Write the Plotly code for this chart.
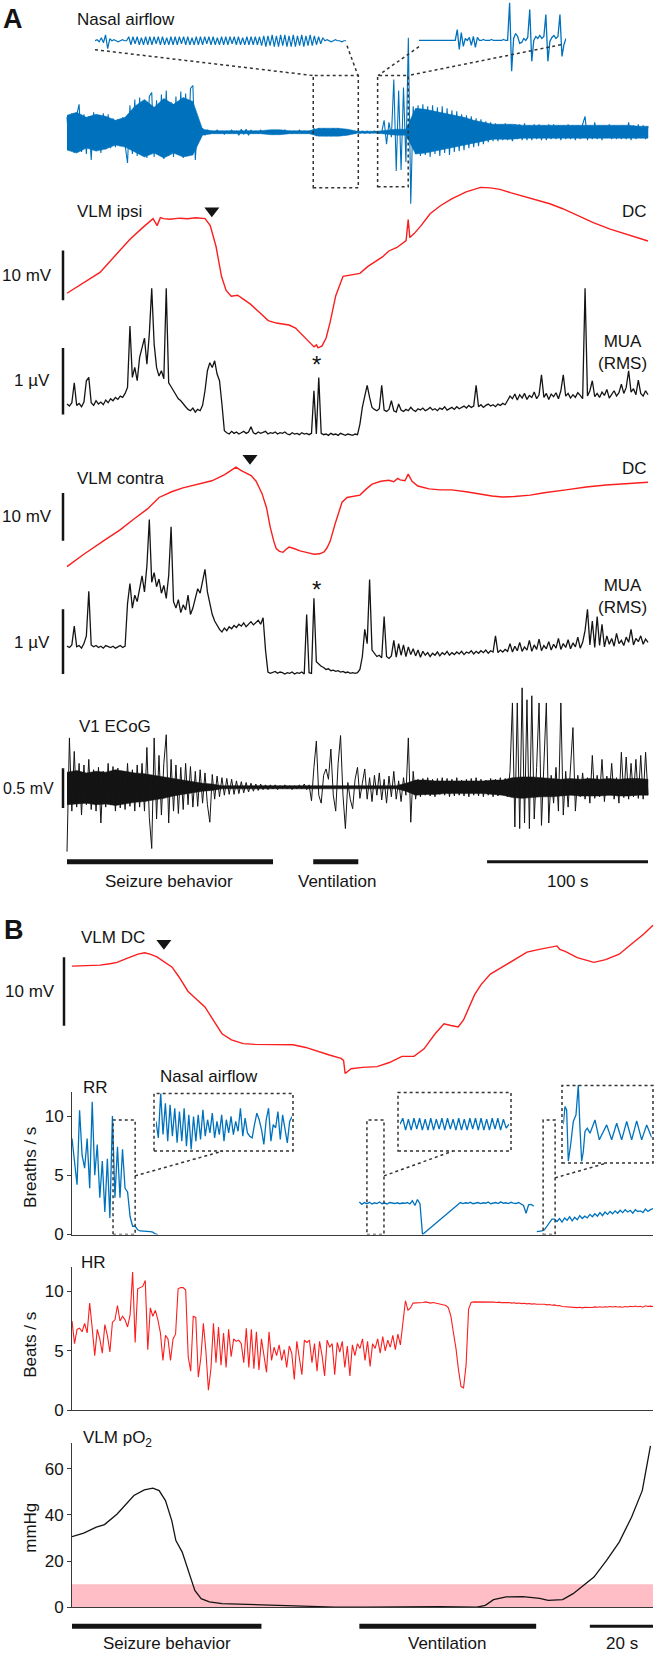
import numpy as np
import plotly.graph_objects as go

W, H = 656, 1663
FONT = "Liberation Sans, Arial, Helvetica, sans-serif"
BLUE = "rgb(0,114,189)"
RED = "rgb(250,30,30)"
INK = "#141414"
AX = "#3a3a3a"

# ================= panel A (time in s) =================
DUR_A = 361.0

# nasal airflow, a.u.
nasal = [15, -18, 19, -21, 17, 28, -20, 18, -22, 16,
         -28, 20, -19, 17, -21, 19, -17, 18, -16, 14,
         -15, 13, -14, 15, -13, -31, 27, -22, 33, -24,
         35, -23, 30, -26, 36, 40, -25, 32, -22, 38,
         -27, 42, -24, 30, -25, 36, -23, 41, -26, 39,
         -24, 44, 47, -28, 10, -6, 4, -3, 2, -1,
         1, -1, 2, -1, 1, -2, 1, -1, 2, -1,
         1, -3, 3, -2, 3, -3, 2, -1, 1, -1,
         2, -1, 1, -1, 1, -2, 1, -1, 1, -1,
         2, -1, 1, -1, 1, -1, 2, -1, 1, -1,
         1, -1, 4, -4, 4, -3, 4, -4, 3, -4,
         4, -3, 4, -4, 3, -3, 1, -1, 1, -1,
         1, -1, 1, -1, 1, -1, 0, 1, 0, -1,
         0, 12, -12, 10, -5, 53, -39, 42, -38, 45,
         -30, 95, -72, 26, -22, 27, -24, 28, -23, 26,
         -25, 27, -22, 25, -24, 26, -21, 24, -23, 22,
         -20, 21, -19, 18, -18, 17, -16, 16, -15, 14,
         -14, 13, -12, 11, -10, 10, -9, 9, -9, 8,
         -8, 9, -8, 8, -9, 8, -7, 8, -8, 9,
         -8, 7, -8, 8, -7, 8, -8, 7, -8, 8,
         -7, 8, -7, 7, -8, 7, -7, 8, -7, 7,
         -8, 7, -7, 8, 16, -8, 7, -7, 10, -7,
         7, -8, 7, -6, 8, -7, 7, -7, 6, -7,
         7, -7, 10, -8, 7, -7, 8, -6, 7, -7,
         6]
# dense core of the airflow band, every 6 s
nasal_hi = [17, 20, 15, 18, 16, 12, 15, 26, 33, 25, 34, 28, 35, 31, 3,
            1.5, 1.5, 1.5, 1.5, 1.5, 1.5, 2.5, 2.5, 1.5, 1.5, 1.5, 4, 4, 4, 3,
            1, 1, 1, 2, 3, 3, 24, 23, 21, 19, 17, 15, 12, 10, 8, 8, 8,
            7, 7, 7, 7, 7, 7, 7, 7, 7, 7, 7, 7, 6, 6]
nasal_lo = [-18, -21, -16, -19, -17, -13, -15, -20, -25, -21, -26, -21, -25, -23, -3,
            -1.5, -1.5, -1.5, -1.5, -1.5, -1.5, -2.5, -2.5, -1.5, -1.5, -1.5, -4, -4, -4, -3,
            -1, -1, -1, -2, -3, -3, -22, -21, -19, -17, -15, -13, -11, -9, -7, -7, -7,
            -6, -6, -6, -6, -6, -6, -6, -6, -6, -6, -6, -6, -6, -6]

# enlarged airflow (ventilation window)
ins1 = [0, 1, -1, 3, -2, 6, -8, 2, 0, 1, 0, -1, 0, 1, 0, 0,
        4, -4, 4, -3, 4, -4, 3, -4, 4, -4, 4, -4, 4, -3, 4, -4, 4, -4, 3, -4,
        4, -4, 4, -4, 4, -3, 4, -4, 4, -4, 3, -4, 4, -4, 4, -4, 4, -3, 4, -4,
        4, -4, 3, -4, 4, -4, 4, -4, 4, -3, 4, -4, 4, -4, 3, -4, 4, -4, 4, -4,
        4, -4, 4,
        -5, 5, -6, 5, -5, 6, -6, 5, -6, 6, -5, 6, -6, 5, -6, 6, -6, 5, -5, 6,
        -6, 5, -5, 6, -5, 5, -4, 4, -3, 3,
        0, 1, 0, -1, 0, 1, 0, 0, -1, 0, 0]

# enlarged airflow (recovery window)
ins2 = [0, 0, 0, 0, 0, 0, 0, 0, 0, 0, 0, 0, 0, 0, 0, 0, 0, 0, 0, 11,
        -9, 8, -6, 2, 0, 3, -5, 4, -7, 3, 0, 0, 1, 0, 0, 0, 1, 0, 0, 0,
        0, 0, 1, 0, 0, 38, -31, 2, 7, 4, -3, -2, 2, 0, 3, 31, -21, 0, 4, 2,
        5, 2, 4, 26, -21, -1, 3, 5, 2, 4, 26, -16, -4, 2]

dc_ipsi_t = [0, 10, 20.5, 30, 39, 47, 53.5, 56, 58, 60, 64, 70, 75, 80, 85.8,
             89, 92.6, 96, 98.8, 102, 106, 110, 114, 120, 125, 130, 138, 142,
             145, 150, 153.5, 155, 156, 158.5, 161, 163.5, 167, 171.5, 176, 182,
             187, 192.7, 196, 200, 205, 210.7, 212, 213, 215.7, 220, 225.6, 232,
             239, 248, 257, 263, 269, 276, 283, 291, 300, 308, 317, 327, 337.5,
             348, 355, 361]
dc_ipsi_mv = [11, 13, 15.2, 18.6, 21.8, 24.2, 26.0, 24.6, 26.2, 26.0, 25.9, 26.1,
              26.0, 26.2, 26.0, 24.6, 20.4, 14.4, 11.6, 10.4, 10.6, 9.7, 8.8, 7.0,
              5.5, 5.0, 4.6, 4.0, 3.0, 1.2, 0.2, 0.6, 0.0, 0.4, 2.0, 5.2, 10.5,
              14.4, 14.6, 15.0, 16.4, 17.6, 18.3, 19.5, 20.2, 21.6, 25.8, 22.2,
              23.0, 24.6, 27.0, 28.6, 30.0, 31.4, 32.3, 32.2, 31.9, 31.2, 30.6,
              29.8, 29.0, 28.0, 26.6, 25.2, 23.9, 22.8, 22.2, 21.5]

mua_ipsi = [0.50, 0.47, 0.52, 0.82, 0.48, 0.51, 0.46, 0.53, 0.85, 0.90,
            0.52, 0.48, 0.55, 0.50, 0.53, 0.49, 0.56, 0.52, 0.58, 0.55,
            0.60, 0.57, 0.62, 0.60, 0.66, 0.75, 1.67, 0.90, 1.05, 0.85,
            1.20, 1.35, 1.49, 1.10, 1.55, 2.24, 1.40, 1.05, 0.92, 1.00,
            0.88, 2.24, 0.82, 0.76, 0.70, 0.62, 0.58, 0.55, 0.50, 0.46,
            0.42, 0.40, 0.44, 0.38, 0.42, 0.40, 0.48, 0.70, 1.00, 1.12,
            1.05, 1.15, 0.95, 0.85, 0.50, 0.10, 0.07, 0.05, 0.09, 0.06,
            0.08, 0.05, 0.07, 0.09, 0.06, 0.08, 0.16, 0.07, 0.05, 0.08,
            0.06, 0.07, 0.09, 0.05, 0.07, 0.06, 0.08, 0.05, 0.07, 0.06,
            0.08, 0.05, 0.04, 0.07, 0.05, 0.06, 0.04, 0.07, 0.05, 0.06,
            0.04, 0.06, 0.70, 0.05, 0.90, 0.06, 0.04, 0.05, 0.03, 0.06,
            0.04, 0.05, 0.03, 0.06, 0.04, 0.03, 0.05, 0.04, 0.03, 0.05,
            0.04, 0.20, 0.45, 0.62, 0.78, 0.60, 0.45, 0.42, 0.40, 0.43,
            0.78, 0.41, 0.39, 0.42, 0.55, 0.40, 0.38, 0.50, 0.41, 0.39,
            0.42, 0.40, 0.45, 0.41, 0.39, 0.43, 0.41, 0.44, 0.40, 0.42,
            0.45, 0.41, 0.43, 0.40, 0.44, 0.42, 0.46, 0.41, 0.43, 0.45,
            0.42, 0.46, 0.43, 0.45, 0.47, 0.44, 0.48, 0.45, 0.47, 0.78,
            0.46, 0.49, 0.45, 0.48, 0.50, 0.47, 0.49, 0.46, 0.50, 0.48,
            0.51, 0.49, 0.55, 0.62, 0.58, 0.65, 0.56, 0.64, 0.59, 0.66,
            0.57, 0.63, 0.60, 0.68, 0.58, 0.64, 0.94, 0.60, 0.66, 0.57,
            0.65, 0.61, 0.67, 0.58, 0.70, 0.94, 0.62, 0.66, 0.59, 0.64,
            0.60, 0.67, 0.63, 0.58, 2.24, 0.62, 0.70, 0.85, 0.61, 0.66,
            0.60, 0.68, 0.63, 0.72, 0.59, 0.65, 0.70, 0.62, 0.67, 0.80,
            0.66, 0.75, 1.00, 0.68, 0.73, 0.64, 0.86, 0.66, 0.62, 0.70,
            0.64]

dc_contra_t = [0, 10, 23.6, 33, 41.6, 50, 57.2, 65, 72, 80.8, 90, 98, 102, 105,
               108, 111, 114.4, 117.5, 121.2, 124, 126.2, 128.5, 130, 132, 134.2,
               136, 138, 141, 144.8, 150, 153.5, 157, 159.7, 161.5, 163.5, 166.6,
               170.9, 174, 178, 182, 186, 189.6, 195, 200, 203, 205.5, 207, 210,
               212, 214.4, 218, 225, 232, 239, 248, 256.7, 264, 270.4, 278, 287.8,
               296.5, 310, 322.6, 335, 348, 361]
dc_contra_mv = [-2.1, 0.4, 3.5, 5.6, 7.9, 10.0, 12.4, 13.6, 14.4, 15.2, 15.9,
                17.2, 18.0, 18.75, 18.1, 17.5, 17.0, 15.8, 13.2, 10.2, 6.3, 3.2,
                1.7, 1.1, 0.9, 1.5, 2.0, 1.7, 1.2, 0.8, 0.5, 0.6, 1.0, 1.8, 3.2,
                6.9, 11.4, 12.4, 12.6, 12.9, 14.2, 15.2, 15.8, 16.0, 15.7, 16.4,
                16.1, 15.9, 17.3, 15.8, 14.8, 14.2, 14.0, 14.0, 13.6, 13.1, 12.7,
                12.5, 12.6, 12.9, 13.4, 14.0, 14.6, 15.0, 15.3, 15.6]

mua_contra = [0.46, 0.44, 0.48, 0.77, 0.45, 0.47, 0.43, 0.50, 0.62, 1.31,
              0.48, 0.45, 0.47, 0.44, 0.46, 0.43, 0.47, 0.45, 0.44, 0.46,
              0.43, 0.45, 0.47, 0.44, 0.46, 1.12, 1.43, 1.05, 1.25, 1.15,
              1.35, 1.55, 1.30, 1.70, 2.42, 1.45, 1.60, 1.38, 1.50, 1.28,
              1.40, 1.20, 1.55, 2.31, 1.15, 1.05, 1.18, 0.98, 1.10, 1.02,
              1.25, 0.95, 1.05, 1.20, 1.35, 1.28, 1.45, 1.65, 1.30, 1.12,
              0.95, 0.85, 0.78, 0.72, 0.68, 0.74, 0.70, 0.76, 0.73, 0.78,
              0.75, 0.80, 0.77, 0.82, 0.76, 0.80, 0.84, 0.79, 0.82, 0.86,
              0.80, 0.90, 0.40, 0.06, 0.04, 0.05, 0.07, 0.04, 0.06, 0.05,
              0.03, 0.05, 0.04, 0.06, 0.03, 0.05, 0.04, 0.06, 0.03, 0.95,
              0.05, 0.04, 1.20, 0.22, 0.18, 0.15, 0.13, 0.10, 0.11, 0.08,
              0.09, 0.07, 0.08, 0.06, 0.07, 0.05, 0.06, 0.04, 0.05, 0.04,
              0.05, 0.10, 0.30, 0.72, 0.50, 1.49, 0.40, 0.35, 0.30, 0.32,
              0.28, 0.92, 0.30, 0.27, 0.31, 0.55, 0.29, 0.50, 0.32, 0.48,
              0.30, 0.45, 0.33, 0.42, 0.31, 0.40, 0.29, 0.38, 0.32, 0.36,
              0.30, 0.35, 0.32, 0.37, 0.31, 0.36, 0.33, 0.38, 0.32, 0.36,
              0.33, 0.37, 0.34, 0.38, 0.33, 0.37, 0.35, 0.39, 0.34, 0.38,
              0.35, 0.39, 0.36, 0.40, 0.35, 0.39, 0.37, 0.62, 0.36, 0.40,
              0.37, 0.41, 0.38, 0.50, 0.37, 0.46, 0.39, 0.52, 0.38, 0.45,
              0.40, 0.55, 0.38, 0.48, 0.41, 0.57, 0.39, 0.47, 0.42, 0.53,
              0.40, 0.49, 0.43, 0.58, 0.41, 0.50, 0.44, 0.56, 0.42, 0.51,
              0.45, 0.60, 0.43, 0.52, 0.70, 1.03, 0.48, 0.85, 0.44, 0.92,
              0.47, 0.80, 0.45, 0.62, 0.49, 0.58, 0.46, 0.66, 0.50, 0.55,
              0.47, 0.60, 0.52, 0.72, 0.48, 0.58, 0.53, 0.62, 0.49, 0.57,
              0.52]

ecog = [-0.81, 0.62, -0.30, 0.45, -0.25, 0.30, -0.35, 0.28, -0.22, 0.35,
        -0.28, 0.22, -0.30, 0.25, -0.45, 0.20, -0.25, 0.30, -0.22, 0.26,
        -0.30, 0.24, -0.26, 0.20, -0.28, 0.30, -0.24, 0.22, -0.30, 0.28,
        -0.25, 0.30, -0.30, 0.50, -0.38, -0.77, 0.62, -0.40, 0.40, -0.35,
        0.30, 0.66, -0.45, 0.35, -0.30, 0.28, -0.33, 0.25, -0.28, 0.30,
        -0.22, 0.26, -0.25, 0.20, -0.24, 0.22, -0.20, 0.18, -0.22, -0.44,
        0.16, -0.15, 0.14, -0.12, 0.12, -0.10, 0.11, -0.09, 0.10, -0.09,
        0.08, -0.08, 0.07, -0.07, 0.06, -0.06, 0.05, -0.05, 0.04, -0.04,
        0.04, -0.03, 0.03, -0.03, 0.03, -0.02, 0.03, -0.03, 0.02, -0.02,
        0.03, -0.02, 0.02, -0.03, 0.02, -0.02, 0.03, -0.02, 0.04, -0.03,
        0.03, -0.17, 0.25, 0.58, -0.10, -0.20, 0.15, 0.23, 0.10, 0.48,
        -0.10, -0.30, 0.30, 0.65, -0.10, -0.52, 0.06, -0.15, -0.27, 0.10,
        0.25, -0.14, 0.05, 0.23, -0.15, 0.12, -0.18, 0.15, -0.10, 0.18,
        -0.16, 0.10, -0.20, 0.14, -0.12, 0.20, -0.15, 0.08, -0.18, 0.12,
        -0.10, 0.62, -0.44, 0.20, -0.15, 0.10, -0.12, 0.11, -0.10, 0.12,
        -0.11, 0.10, -0.12, 0.11, -0.09, 0.12, -0.10, 0.11, -0.12, 0.10,
        -0.11, 0.12, -0.10, 0.09, -0.11, 0.10, -0.12, 0.11, -0.10, 0.12,
        -0.11, 0.10, -0.12, 0.09, -0.10, 0.11, -0.12, 0.10, -0.11, 0.12,
        -0.10, 0.11, -0.12, 0.20, 1.06, -0.50, 1.06, -0.52, 1.25, -0.45,
        1.10, -0.52, 1.15, -0.40, 0.25, 1.06, -0.48, 0.20, 1.06, -0.45,
        0.15, -0.20, 0.25, -0.30, 1.06, -0.35, 0.20, -0.25, 0.30, 0.75,
        -0.30, 0.15, -0.12, 0.18, -0.15, 0.12, -0.20, 0.40, -0.14, 0.15,
        -0.12, 0.35, -0.18, 0.14, -0.10, 0.30, -0.15, 0.12, -0.20, 0.44,
        -0.13, 0.38, -0.15, 0.30, -0.12, 0.35, -0.14, 0.40, -0.15, 0.44,
        -0.10]
# dense core of the ECoG band, every 6 s
ecog_hi = [0.19, 0.21, 0.18, 0.20, 0.19, 0.22, 0.20, 0.18, 0.17, 0.15,
           0.13, 0.11, 0.09, 0.07, 0.05, 0.04, 0.02, 0.02, 0.02, 0.02,
           0.02, 0.02, 0.02, 0.02, 0.02, 0.02, 0.02, 0.02, 0.02, 0.02,
           0.02, 0.02, 0.02, 0.02, 0.02, 0.05, 0.09, 0.09, 0.08, 0.08,
           0.08, 0.08, 0.08, 0.08, 0.09, 0.09, 0.12, 0.13, 0.13, 0.12,
           0.11, 0.10, 0.11, 0.10, 0.11, 0.10, 0.11, 0.10, 0.11, 0.11, 0.10]
ecog_lo = [-0.22, -0.21, -0.20, -0.22, -0.21, -0.23, -0.21, -0.19, -0.18, -0.16,
           -0.14, -0.11, -0.09, -0.07, -0.05, -0.04, -0.02, -0.02, -0.02, -0.02,
           -0.02, -0.02, -0.02, -0.02, -0.02, -0.02, -0.02, -0.02, -0.02, -0.02,
           -0.02, -0.02, -0.02, -0.02, -0.02, -0.05, -0.10, -0.09, -0.09, -0.08,
           -0.08, -0.08, -0.08, -0.08, -0.09, -0.10, -0.13, -0.14, -0.13, -0.12,
           -0.12, -0.11, -0.10, -0.11, -0.11, -0.11, -0.10, -0.11, -0.11, -0.10, -0.10]

seizure_a = [0, 128]
vent_a = [153, 181]
scale_a = [261, 361]
zoom_win_a = [[153, 181], [193, 212]]
onset_ipsi = (90, 27.6)
onset_contra = (113.7, 20.6)

# ================= panel B (time in s) =================
DUR_B = 184.0

dcb_t = [0, 4, 8.9, 12, 14.3, 17, 20.9, 23, 24.7, 26.9, 29, 31.7, 34, 36.7,
         39.5, 42.1, 45, 47.5, 50.5, 54.2, 58, 62.7, 66, 70, 74, 77.9, 81.5,
         85.2, 86.0, 86.5, 88.4, 92, 96.6, 100.5, 104.5, 108.3, 111.5, 115,
         117.8, 120, 122.3, 124, 125.8, 127.5, 129.6, 132.5, 136.2, 140, 144.1,
         148, 152, 153.6, 154.5, 156.2, 160, 165.3, 169, 173.3, 177, 181, 184]
dcb_mv = [15.65, 15.7, 15.8, 16.0, 16.2, 16.7, 17.4, 17.6, 17.4, 17.0, 16.4,
          15.5, 14.0, 12.0, 10.8, 9.7, 7.6, 5.8, 4.9, 4.35, 4.25, 4.2, 4.2, 4.2,
          3.8, 3.2, 2.7, 2.2, 1.9, 0.0, 0.7, 0.9, 1.0, 1.6, 2.5, 2.5, 3.6, 5.8,
          7.25, 7.0, 6.8, 7.8, 9.7, 11.5, 13.0, 14.5, 15.5, 16.6, 17.7, 18.1,
          18.4, 18.6, 18.1, 17.8, 16.9, 16.2, 16.6, 17.4, 18.8, 20.3, 21.6]
onset_b = (29.1, 19.0)

RR_STEP = 0.8
rr_seg1 = [8.1, 5.9, 4.2, 10.5, 6.7, 5.6, 8.1, 3.9, 11.2, 5.0,
           7.6, 3.1, 6.2, 1.9, 6.4, 1.4, 10.0, 3.1, 7.4, 3.1,
           7.2, 3.9, 3.6, 1.5, 0.7, 0.7, 0.4, 0.3, 0.3, 0.3,
           0.3, 0.25, 0.2, 0.05, 0.0]
rr_seg2a_start = 91.0
rr_seg2a = [2.75, 2.55, 2.70, 2.60, 2.72, 2.58, 2.68, 2.62, 2.75, 2.60,
            2.66, 2.58, 2.70, 2.64, 2.62, 2.68, 2.60, 2.66, 2.64, 2.70,
            2.58, 2.85, 2.45, 2.95, 2.60]
rr_stop = (111.0, 0.0)
rr_seg2b_start = 123.0
rr_seg2b = [2.70, 2.62, 2.68, 2.64, 2.72, 2.60, 2.66, 2.70, 2.62, 2.68,
            2.64, 2.74, 2.60, 2.66, 2.70, 2.62, 2.76, 2.64, 2.68, 2.62,
            2.72, 2.66, 2.62, 2.70, 2.55, 2.45, 1.80, 2.50, 2.55, 2.40]
rr_seg3_start = 147.2
rr_seg3 = [0.25, 0.28, 0.30, 0.40, 0.70, 1.00, 1.30, 1.30, 1.10, 1.35,
           1.05, 1.40, 1.20, 1.50, 1.15, 1.45, 1.25, 1.60, 1.35, 1.55,
           1.40, 1.70, 1.50, 1.75, 1.55, 1.85, 1.60, 1.90, 1.70, 1.95,
           1.75, 2.00, 1.80, 2.05, 1.85, 2.10, 1.90, 2.05, 1.80, 2.10,
           1.95, 2.00, 1.85, 2.15, 1.95, 2.10, 2.20]
rr_windows = [[13.0, 20.0], [93.4, 98.8], [149.2, 153.0]]
rr_window_top = 9.67

# enlarged airflow in the three RR windows (a.u.)
airflow_a = [2, -48, 87, -38, 57, -58, 52, -43, 42, -63, 32, -58, 42, -73, 22,
             -83, 17, -58, 22, -53, 37, -43, 7, -33, 27, -48, 2, -38, 22, -58,
             7, -33, 17, -38, 2, -28, 42, -43, 12, -33, -43, -48, -8, 27, 7,
             -23, -68, 7, 42, -58, -8, -18, 32, -53, 22, -28, -63, 2, 17]
airflow_b = [0, 6, -6, 5, -6, 6, -5, 6, -6, 5, -6, 6, -6, 5, -5, 6, -6, 6, -5, 5,
             -6, 6, -6, 5, -6, 6, -5, 6, -6, 6, -6, 5, -6, 6, -5, 6, -6, 5, -4, 0]
airflow_c_t = [0, 5, 10, 15, 22, 30, 38, 45, 50, 55, 60, 65, 72, 80, 95, 108,
               130, 145, 160, 175, 190, 205, 220, 235, 250, 265]
airflow_c = [0, 17.7, 14.3, -37.3, -20.7, 2.7, 9.3, 39.3, -4, -37.3, -27.3,
             -7.3, -4, -9, 4.3, -15.7, -0.7, -15.7, 1, -15.7, 2.7, -15.7, 3.3,
             -15.7, -0.7, -13.3]

HR_STEP = 0.8
hr = [7.5, 5.6, 6.8, 6.9, 6.6, 7.3, 6.5, 9.0, 6.9, 4.6,
      6.8, 6.0, 4.8, 7.2, 6.3, 4.9, 7.4, 7.6, 8.8, 7.5,
      7.9, 7.6, 7.0, 8.0, 11.6, 5.7, 10.2, 10.3, 10.4, 10.9,
      5.1, 8.6, 7.9, 8.4, 7.6, 6.5, 4.2, 6.3, 6.0, 4.2,
      6.0, 6.4, 10.2, 10.3, 10.3, 10.1, 4.5, 3.3, 7.9, 7.8,
      2.8, 4.4, 7.3, 5.0, 1.7, 3.5, 7.3, 4.0, 7.0, 3.8,
      6.5, 3.6, 6.8, 4.5, 6.0, 5.8, 5.9, 5.6, 4.0, 6.9,
      3.6, 6.8, 3.5, 6.6, 3.4, 6.0, 4.5, 3.2, 6.6, 4.2,
      5.3, 4.6, 5.5, 4.2, 5.1, 3.6, 5.4, 4.8, 2.6, 5.8,
      4.4, 3.0, 5.9, 5.7, 5.9, 4.0, 5.6, 3.3, 5.8, 4.6,
      2.9, 5.9, 5.3, 5.6, 3.0, 5.7, 4.9, 5.8, 3.6, 5.4,
      2.9, 5.5, 4.6, 5.6, 5.2, 6.0, 4.2, 5.8, 3.7, 5.6,
      5.2, 6.0, 4.8, 6.2, 5.0, 5.9, 5.3, 6.3, 5.1, 6.4,
      5.5, 7.4, 9.2, 8.4, 8.6, 9.0, 9.0, 9.05, 9.0, 9.05,
      9.1, 9.05, 9.0, 9.05, 9.0, 9.0, 8.95, 8.9, 8.8, 8.6,
      7.9, 6.5, 5.2, 3.4, 2.0, 1.9, 3.8, 8.5, 9.05, 9.1,
      9.10, 9.12, 9.08, 9.12, 9.10, 9.06, 9.10, 9.08, 9.05, 9.08,
      9.04, 9.06, 9.02, 9.05, 9.00, 9.03, 8.98, 9.01, 8.96, 8.99,
      8.94, 8.97, 8.92, 8.95, 8.90, 8.92, 8.88, 8.90, 8.85, 8.88,
      8.82, 8.85, 8.78, 8.80, 8.72, 8.70, 8.66, 8.68, 8.64, 8.66,
      8.62, 8.65, 8.60, 8.64, 8.62, 8.66, 8.63, 8.68, 8.65, 8.70,
      8.66, 8.70, 8.67, 8.72, 8.68, 8.71, 8.67, 8.70, 8.66, 8.72,
      8.68, 8.74, 8.70, 8.76, 8.70, 8.74, 8.66, 8.78, 8.72, 8.75,
      8.72]

po2_t = [0, 3.7, 7.7, 10.3, 14.3, 17, 19.6, 22.9, 25.6, 27.6, 29.6, 31.6, 32.9,
         34.9, 36.9, 38.9, 40.9, 43.5, 47.5, 54.1, 59.5, 64.8, 72.7, 83.3, 92.6,
         103, 116.3, 128.2, 130.9, 133.5, 137.5, 142.8, 148.1, 150.8, 155.4,
         158.7, 162, 165.3, 169.3, 173.3, 177.2, 180.6, 183.2]
po2 = [30.6, 32.1, 34.7, 35.8, 40.4, 44.7, 48.4, 50.8, 51.6, 50.5, 46.2, 37.5,
       28.9, 23.9, 16.0, 7.3, 3.7, 2.3, 1.6, 1.3, 1.1, 0.85, 0.55, 0.1, 0.05,
       0.25, 0.25, 0.1, 0.85, 3.3, 4.5, 4.6, 3.9, 3.0, 3.3, 5.9, 9.5, 13.1,
       20.3, 28.2, 39.0, 50.5, 69.9]
hypoxia_band = [0, 10]

seizure_b = [0, 60]
vent_b = [91, 147]
scale_b = [164, 184]


# ================= helpers =================
def xd(a, b):
    return [a / W, b / W]


def yd(top, bottom):
    return [1 - bottom / H, 1 - top / H]


def px(x):
    return x / W


def py(y):
    return 1 - y / H


PX_A = 581 / DUR_A
PX_B = 581 / DUR_B

fig = go.Figure()


def line(x, y, xa, ya, color, width=1.2):
    fig.add_trace(go.Scatter(x=list(x), y=list(y), xaxis=xa, yaxis=ya,
                             mode="lines", line=dict(color=color, width=width),
                             hoverinfo="skip"))


def band(hi, lo, dur, xa, ya, color):
    t = list(np.linspace(0, dur, len(hi)))
    fig.add_trace(go.Scatter(x=t + t[::-1], y=list(hi) + list(lo)[::-1],
                             xaxis=xa, yaxis=ya, mode="lines", fill="toself",
                             fillcolor=color, line=dict(color=color, width=0.5),
                             hoverinfo="skip"))


def tbase(vals, dur):
    return np.linspace(0, dur, len(vals))


# ---- panel A traces ----
band(nasal_hi, nasal_lo, DUR_A, "x", "y", BLUE)
line(tbase(nasal, DUR_A), nasal, "x", "y", BLUE, 1.1)
line(range(len(ins1)), ins1, "x6", "y13", BLUE, 1.2)
line(range(len(ins2)), ins2, "x7", "y14", BLUE, 1.3)
line(dc_ipsi_t, dc_ipsi_mv, "x", "y2", RED, 1.4)
line(tbase(mua_ipsi, DUR_A), mua_ipsi, "x", "y3", INK, 1.3)
line(dc_contra_t, dc_contra_mv, "x", "y4", RED, 1.4)
line(tbase(mua_contra, DUR_A), mua_contra, "x", "y5", INK, 1.3)
band(ecog_hi, ecog_lo, DUR_A, "x", "y6", INK)
line(tbase(ecog, DUR_A), ecog, "x", "y6", INK, 1.0)

for seg, w in [(seizure_a, 5), (vent_a, 5), (scale_a, 3)]:
    line(seg, [0, 0], "x", "y7", INK, w)

for (t, v), ya in [(onset_ipsi, "y2"), (onset_contra, "y4")]:
    fig.add_trace(go.Scatter(x=[t], y=[v], xaxis="x", yaxis=ya, mode="markers",
                             marker=dict(symbol="triangle-down", size=13, color=INK),
                             cliponaxis=False, hoverinfo="skip"))

# ---- panel B traces ----
line(dcb_t, dcb_mv, "x2", "y8", RED, 1.4)
fig.add_trace(go.Scatter(x=[onset_b[0]], y=[onset_b[1]], xaxis="x2", yaxis="y8",
                         mode="markers", cliponaxis=False, hoverinfo="skip",
                         marker=dict(symbol="triangle-down", size=13, color=INK)))

rr_t, rr_v = [], []
rr_t += [i * RR_STEP for i in range(len(rr_seg1))]
rr_v += rr_seg1
rr_t.append(None); rr_v.append(None)
rr_t += [rr_seg2a_start + i * RR_STEP for i in range(len(rr_seg2a))]
rr_v += rr_seg2a
rr_t.append(rr_stop[0]); rr_v.append(rr_stop[1])
rr_t += [rr_seg2b_start + i * RR_STEP for i in range(len(rr_seg2b))]
rr_v += rr_seg2b
rr_t.append(None); rr_v.append(None)
rr_t += [rr_seg3_start + i * RR_STEP for i in range(len(rr_seg3))]
rr_v += rr_seg3
line(rr_t, rr_v, "x3", "y9", BLUE, 1.3)

line(range(len(airflow_a)), airflow_a, "x8", "y15", BLUE, 1.3)
line(range(len(airflow_b)), airflow_b, "x9", "y16", BLUE, 1.3)
line(airflow_c_t, airflow_c, "x10", "y17", BLUE, 1.3)

line([i * HR_STEP for i in range(len(hr))], hr, "x4", "y10", RED, 1.1)
line(po2_t, po2, "x5", "y11", INK, 1.3)

for seg, w in [(seizure_b, 5), (vent_b, 5), (scale_b, 3)]:
    line(seg, [0, 0], "x2", "y12", INK, w)

# ================= axes =================
hid = dict(visible=False, fixedrange=True)
tickfont = dict(family=FONT, size=17, color=INK)


def shown_y(dom, rng, anchor, tv):
    return dict(domain=dom, range=rng, anchor=anchor, showline=True, linecolor=AX,
                linewidth=1, ticks="outside", ticklen=4, tickcolor=AX,
                tickvals=tv, tickfont=tickfont, showgrid=False, zeroline=False)


def shown_x(anchor):
    return dict(domain=xd(72, 653), range=[0, DUR_B], anchor=anchor, showline=True,
                linecolor=AX, linewidth=1, showticklabels=False, ticks="",
                showgrid=False, zeroline=False)


layout = dict(
    width=W, height=H, margin=dict(l=0, r=0, t=0, b=0),
    paper_bgcolor="white", plot_bgcolor="rgba(0,0,0,0)", showlegend=False,
    font=dict(family=FONT, size=17, color=INK),
    xaxis=dict(hid, domain=xd(60, 650), range=[-7 / PX_A, 583 / PX_A], anchor="y"),
    xaxis2=dict(hid, domain=xd(60, 655), range=[-12 / PX_B, 583 / PX_B], anchor="y8"),
    xaxis3=shown_x("y9"),
    xaxis4=shown_x("y10"),
    xaxis5=shown_x("y11"),
    xaxis6=dict(hid, domain=xd(95, 346), range=[0, len(ins1) - 1], anchor="y13"),
    xaxis7=dict(hid, domain=xd(419, 566), range=[0, len(ins2) - 1], anchor="y14"),
    xaxis8=dict(hid, domain=xd(156, 292), range=[0, len(airflow_a) - 1], anchor="y15"),
    xaxis9=dict(hid, domain=xd(400, 509), range=[0, len(airflow_b) - 1], anchor="y16"),
    xaxis10=dict(hid, domain=xd(563.3, 651.7), range=[0, 265], anchor="y17"),
    yaxis=dict(hid, domain=yd(30, 210), range=[-77, 103], anchor="x"),
    yaxis2=dict(hid, domain=yd(185, 355), range=[-1, 33], anchor="x"),
    yaxis3=dict(hid, domain=yd(280, 445), range=[-5 / 67, 160 / 67], anchor="x"),
    yaxis4=dict(hid, domain=yd(460, 575), range=[-15 / 4.8, 100 / 4.8], anchor="x"),
    yaxis5=dict(hid, domain=yd(500, 690), range=[-10 / 65, 180 / 65], anchor="x"),
    yaxis6=dict(hid, domain=yd(685, 862), range=[-70 / 80, 107 / 80], anchor="x"),
    yaxis7=dict(hid, domain=yd(857, 877), range=[-1, 1], anchor="x"),
    yaxis8=dict(hid, domain=yd(925, 1085), range=[-5 / 6.9, 155 / 6.9], anchor="x2"),
    yaxis9=shown_y(yd(1099, 1242), [0, 12], "x3", [0, 5, 10]),
    yaxis10=shown_y(yd(1275, 1419), [0, 12], "x4", [0, 5, 10]),
    yaxis11=shown_y(yd(1452, 1617), [0, 71], "x5", [0, 20, 40, 60]),
    yaxis12=dict(hid, domain=yd(1626, 1646), range=[-1, 1], anchor="x2"),
    yaxis13=dict(hid, domain=yd(26, 56), range=[-15, 15], anchor="x6"),
    yaxis14=dict(hid, domain=yd(0, 76), range=[-35.3, 40.7], anchor="x7"),
    yaxis15=dict(hid, domain=yd(1100, 1158), range=[-88, 87], anchor="x8"),
    yaxis16=dict(hid, domain=yd(1099, 1158), range=[-27, 32], anchor="x9"),
    yaxis17=dict(hid, domain=yd(1091, 1170), range=[-39, 40], anchor="x10"),
)
fig.update_layout(**layout)

# ================= shapes =================
shapes = []
bar_x_a = -4 / PX_A
bar_x_b = -8 / PX_B
for ya, lo, hi in [("y2", 9.6, 19.6), ("y3", 0.343, 1.343), ("y4", 3.33, 13.33),
                   ("y5", 0.03, 1.03), ("y6", -0.2625, 0.2375)]:
    shapes.append(dict(type="line", xref="x", yref=ya, x0=bar_x_a, x1=bar_x_a,
                       y0=lo, y1=hi, line=dict(color=INK, width=2.5)))
shapes.append(dict(type="line", xref="x2", yref="y8", x0=bar_x_b, x1=bar_x_b,
                   y0=6.96, y1=16.96, line=dict(color=INK, width=2.5)))

dot = dict(color="#333333", width=1.5, dash="dot")
for (t0, t1), bot in zip(zoom_win_a, [189, 188]):
    shapes.append(dict(type="rect", xref="x", yref="paper", x0=t0, x1=t1,
                       y0=py(bot), y1=py(76), line=dot))
for (x0, y0, x1, y1) in [(95, 50, 313, 76), (347, 46, 358, 76),
                         (419, 47, 378, 76), (561, 45, 408, 76)]:
    shapes.append(dict(type="line", xref="paper", yref="paper", x0=px(x0),
                       y0=py(y0), x1=px(x1), y1=py(y1), line=dot))

for t0, t1 in rr_windows:
    shapes.append(dict(type="rect", xref="x3", yref="y9", x0=t0, x1=t1, y0=0,
                       y1=rr_window_top, line=dot))
for (x0, y0, x1, y1) in [(154, 1100, 293, 1158), (398, 1099, 511, 1158),
                         (562, 1092, 653, 1170)]:
    shapes.append(dict(type="rect", xref="paper", yref="paper", x0=px(x0),
                       x1=px(x1), y0=py(y1), y1=py(y0), line=dot))
for (x0, y0, x1, y1) in [(135, 1183, 223, 1158), (384, 1183, 453, 1158),
                         (555, 1185, 607, 1170)]:
    shapes.append(dict(type="line", xref="paper", yref="paper", x0=px(x0),
                       y0=py(y0), x1=px(x1), y1=py(y1), line=dot))

shapes.append(dict(type="rect", xref="x5", yref="y11", x0=0, x1=DUR_B + 1,
                   y0=hypoxia_band[0], y1=hypoxia_band[1], layer="below",
                   fillcolor="rgb(255,190,198)", line=dict(width=0)))
fig.update_layout(shapes=shapes)

# ================= text =================
ann = []


def txt(s, x, y, xa="left", size=17, bold=False, angle=0):
    if bold:
        s = "<b>" + s + "</b>"
    ann.append(dict(text=s, x=px(x), y=py(y), xref="paper", yref="paper",
                    xanchor=xa, yanchor="middle", showarrow=False, textangle=angle,
                    font=dict(family=FONT, size=size, color=INK)))


txt("A", 1, 19, size=27, bold=True)
txt("Nasal airflow", 75, 20)
txt("VLM ipsi", 75, 213)
txt("DC", 649, 213, "right")
txt("10 mV", 54, 277, "right")
txt("MUA<br>(RMS)", 649, 355, "right")
txt("1 µV", 52, 383, "right")
txt("*", 316, 367, "center", size=24)
txt("VLM contra", 75, 481)
txt("DC", 649, 471, "right")
txt("10 mV", 54, 520, "right")
txt("MUA<br>(RMS)", 649, 600, "right")
txt("1 µV", 52, 646, "right")
txt("*", 316, 593, "center", size=24)
txt("V1 ECoG", 77, 731)
txt("0.5 mV", 56, 793, "right", size=16)
txt("Seizure behavior", 169, 887, "center")
txt("Ventilation", 337, 887, "center")
txt("100 s", 568, 887, "center")

txt("B", 2, 936, size=27, bold=True)
txt("VLM DC", 79, 943)
txt("10 mV", 57, 997, "right")
txt("Nasal airflow", 158, 1083)
txt("RR", 81, 1094)
txt("Breaths / s", 31, 1175, "center", angle=-90)
txt("HR", 79, 1270)
txt("Beats / s", 31, 1353, "center", angle=-90)
txt("VLM pO<sub>2</sub>", 81, 1448)
txt("mmHg", 31, 1537, "center", angle=-90)
txt("Seizure behavior", 167, 1653, "center")
txt("Ventilation", 447, 1653, "center")
txt("20 s", 622, 1653, "center")
fig.update_layout(annotations=ann)

fig.write_html("out.html", config={"displayModeBar": False},
               post_script="document.body.style.margin='0';"
                           "document.documentElement.style.overflow='hidden';")
